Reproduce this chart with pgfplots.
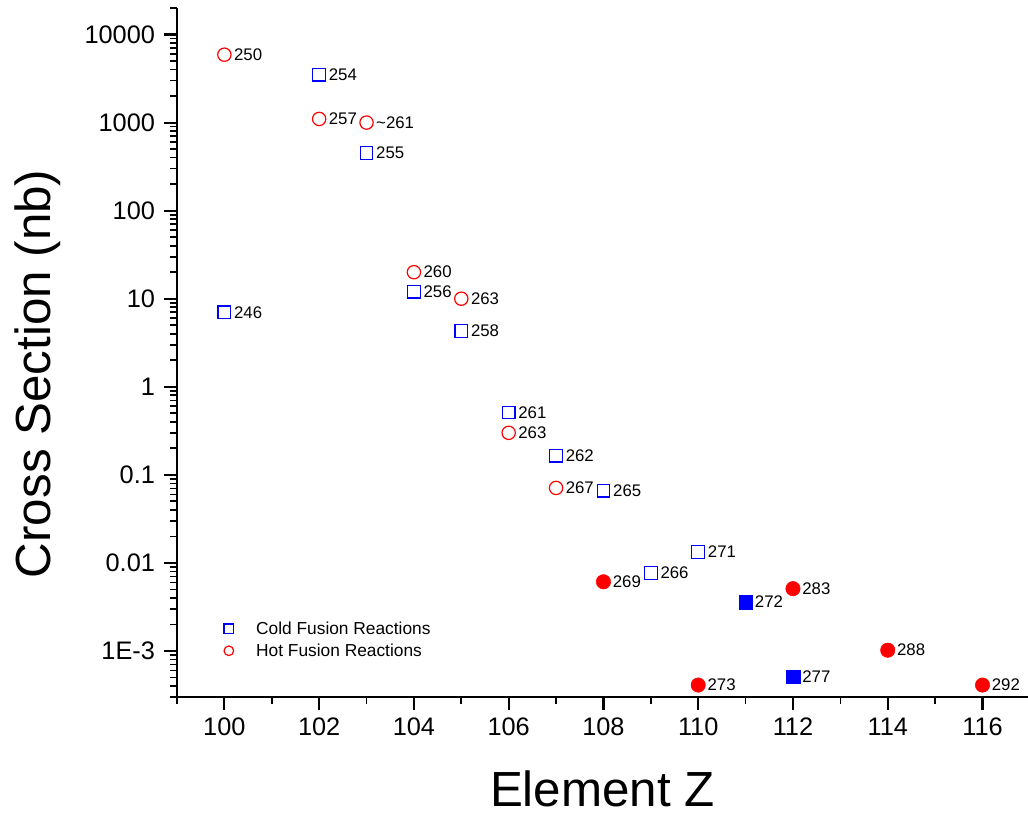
\documentclass[border=0pt]{standalone}
\usepackage{fontspec}
\setmainfont{Liberation Sans}
\usepackage{pgfplots}
\pgfplotsset{compat=1.18}
\definecolor{pred}{RGB}{255,0,0}
\definecolor{pblue}{RGB}{0,0,255}
\begin{document}
\begin{tikzpicture}
\begin{axis}[
  scale only axis, width=638.25pt, height=516.75pt,
  ymode=log, xmin=99, xmax=116.96, ymin=3e-4, ymax=2e4,
  axis lines*=left,
  axis line style={line width=2pt},
  tick align=outside,
  major tick length=10pt, minor tick length=5pt,
  major tick style={line width=1.6pt, black},
  minor tick style={line width=1.3pt, black},
  xtick={100,102,...,116},
  xticklabels={100,102,104,106,108,110,112,114,116},
  minor xtick={99,101,...,115},
  ytick={1e-3,1e-2,1e-1,1,10,100,1000,10000},
  yticklabels={1E-3,0.01,0.1,1,10,100,1000,10000},
  minor ytick={3e-4,4e-4,5e-4,6e-4,7e-4,8e-4,9e-4,
    2e-3,3e-3,4e-3,5e-3,6e-3,7e-3,8e-3,9e-3,
    2e-2,3e-2,4e-2,5e-2,6e-2,7e-2,8e-2,9e-2,
    0.2,0.3,0.4,0.5,0.6,0.7,0.8,0.9,
    2,3,4,5,6,7,8,9,
    20,30,40,50,60,70,80,90,
    200,300,400,500,600,700,800,900,
    2000,3000,4000,5000,6000,7000,8000,9000,20000},
  tick label style={font=\fontsize{19}{22}\selectfont},
  xticklabel style={yshift=-2pt},
  yticklabel style={xshift=-3pt},
  xlabel={Element Z},
  ylabel={Cross Section (nb)},
  xlabel style={font=\fontsize{37}{44}\selectfont, at={(axis description cs:0.5,-0.159)}, anchor=base},
  ylabel style={font=\fontsize{37}{44}\selectfont, at={(axis description cs:-0.149,0.469)}, anchor=base},
  clip=false,
  point meta=explicit symbolic,
  nodes near coords,
  every node near coord/.append style={anchor=west, xshift=3.5pt, text=black, font=\fontsize{12.6}{15}\selectfont},
  legend style={draw=none, fill=none, at={(axis description cs:0.047,0.083)}, anchor=west,
    font=\fontsize{13}{15.5}\selectfont, row sep=1.5pt},
  legend cell align=left,
  legend image code/.code={\path[draw=none,fill=none] (0cm,0cm) -- (0.85cm,0cm); \path[#1,mark size=3.6pt,draw=none] plot[only marks] coordinates {(0.2cm,0cm)};},
]
\addplot[only marks, mark=square, mark size=4.75pt, draw=pblue, mark options={line width=0.9pt, draw=pblue, fill=none}]
coordinates {
 (100,7) [246]
 (102,3500) [254]
 (103,450) [255]
 (104,12) [256]
 (105,4.3) [258]
 (106,0.51) [261]
 (107,0.165) [262]
 (108,0.066) [265]
 (109,0.0077) [266]
 (110,0.0133) [271]
};
\addlegendentry{Cold Fusion Reactions}
\addplot[only marks, mark=o, mark size=5pt, draw=pred, mark options={line width=0.9pt, draw=pred, fill=none}]
coordinates {
 (100,5900) [250]
 (102,1100) [257]
 (103,1000) [\textasciitilde261]
 (104,20) [260]
 (105,10) [263]
 (106,0.3) [263]
 (107,0.071) [267]
};
\addlegendentry{Hot Fusion Reactions}
\addplot[forget plot, only marks, mark=*, mark size=5.4pt, mark options={draw=pred, fill=pred}]
coordinates {
 (108,0.0061) [269]
 (110,0.00041) [273]
 (112,0.0051) [283]
 (114,0.00102) [288]
 (116,0.00041) [292]
};
\addplot[forget plot, only marks, mark=square*, mark size=5.1pt, mark options={draw=pblue, fill=pblue}]
coordinates {
 (111,0.0036) [272]
 (112,0.00051) [277]
};
\end{axis}
\pgfresetboundingbox
\path (-132.75pt,-88.5pt) rectangle (638.25pt,522.75pt);
\end{tikzpicture}
\end{document}
